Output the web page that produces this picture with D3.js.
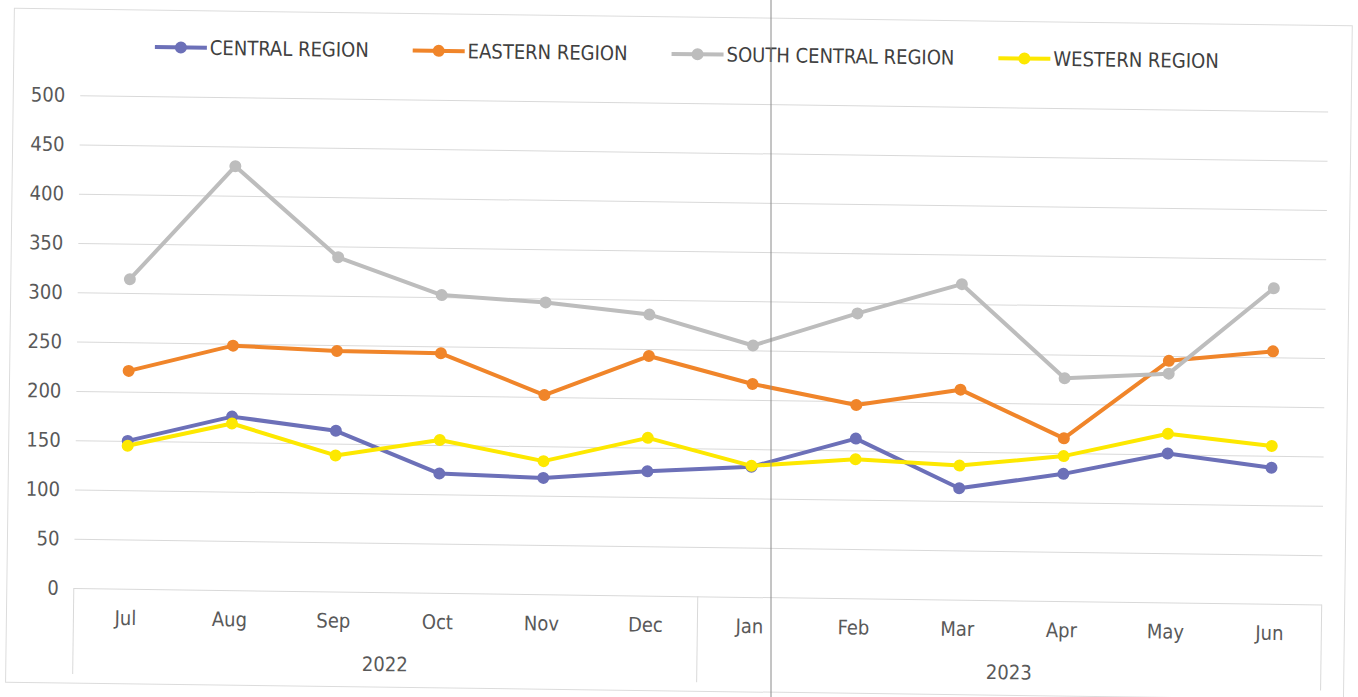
<!DOCTYPE html>
<html>
<head>
<meta charset="utf-8">
<script src="https://cdn.jsdelivr.net/npm/d3@7"></script>
<style>
  html, body { margin: 0; padding: 0; background: #fff; }
  svg { display: block; }
  text { font-family: "DejaVu Sans Condensed", "Liberation Sans", sans-serif; }
</style>
</head>
<body>
<svg></svg>
<script>
let months = ['Jul', 'Aug', 'Sep', 'Oct', 'Nov', 'Dec', 'Jan', 'Feb', 'Mar', 'Apr', 'May', 'Jun']
let years = ['2022', '2023']
let monthsPerYear = [6, 6]
let yTicks = [0, 50, 100, 150, 200, 250, 300, 350, 400, 450, 500]

let seriesNames = ['CENTRAL REGION', 'EASTERN REGION', 'SOUTH CENTRAL REGION', 'WESTERN REGION']
let central = [150, 176, 163, 121, 118, 126, 132, 162, 113, 129, 151, 138]
let eastern = [221, 248, 244, 243, 202, 243, 216, 196, 213, 165, 245, 256]
let southCentral = [314, 430, 339, 302, 296, 285, 255, 289, 320, 226, 232, 320]
let western = [145, 169, 138, 155, 135, 160, 133, 141, 136, 147, 171, 160]
let colors = ['#6c70b8', '#f0852a', '#bdbdbd', '#fde800']

let width = 1358
let height = 697
let plotLeft = 77
let plotRight = 1325
let plotTop = 103
let plotBottom = 596

let svg = d3.select('svg').attr('width', width).attr('height', height)

// the scan is slightly tilted
let g = svg.append('g').attr('transform', 'rotate(0.75, 679, 348)')

g.append('rect')
  .attr('x', 10).attr('y', 17).attr('width', 1338).attr('height', 674)
  .attr('fill', 'none').attr('stroke', '#dcdcdc')

let xScale = d3.scaleBand().domain(months).range([plotLeft, plotRight])
let yScale = d3.scaleLinear().domain([0, 500]).range([plotBottom, plotTop])

// gridlines
g.append('g')
  .attr('transform', `translate(${plotLeft},0)`)
  .call(d3.axisLeft(yScale).tickValues(yTicks).tickSize(-(plotRight - plotLeft)).tickFormat(''))
  .call(a => a.select('.domain').remove())
  .call(a => a.selectAll('line').attr('stroke', '#d9d9d9'))

// y labels
g.append('g')
  .attr('transform', `translate(${plotLeft},0)`)
  .call(d3.axisLeft(yScale).tickValues(yTicks).tickSize(0).tickPadding(15))
  .call(a => a.select('.domain').remove())
  .call(a => a.selectAll('text').attr('fill', '#595959').style('font-size', '20px')
    .style('font-family', '"DejaVu Sans Condensed", sans-serif'))

// x month labels
g.append('g')
  .attr('transform', `translate(0,${plotBottom})`)
  .call(d3.axisBottom(xScale).tickSize(0).tickPadding(22))
  .call(a => a.select('.domain').remove())
  .call(a => a.selectAll('text').attr('fill', '#595959').style('font-size', '20px')
    .style('font-family', '"DejaVu Sans Condensed", sans-serif'))

// category box lines
let bounds = [0]
monthsPerYear.forEach((n, i) => bounds.push(bounds[i] + n))
bounds.forEach(b => {
  let xx = b < months.length ? xScale(months[b]) : plotRight
  g.append('line')
    .attr('x1', xx).attr('x2', xx).attr('y1', plotBottom).attr('y2', 682)
    .attr('stroke', '#d9d9d9')
})

years.forEach((yr, i) => {
  let x0 = xScale(months[bounds[i]])
  let x1 = bounds[i + 1] < months.length ? xScale(months[bounds[i + 1]]) : plotRight
  g.append('text')
    .attr('x', (x0 + x1) / 2).attr('y', 675)
    .attr('text-anchor', 'middle')
    .attr('fill', '#595959').style('font-size', '20px')
    .text(yr)
})

// series
let allSeries = [central, eastern, southCentral, western]
let line = d3.line()
  .x((d, i) => xScale(months[i]) + xScale.bandwidth() / 2)
  .y(d => yScale(d))

allSeries.forEach((vals, s) => {
  g.append('path')
    .datum(vals)
    .attr('d', line)
    .attr('fill', 'none')
    .attr('stroke', colors[s])
    .attr('stroke-width', 4)
    .attr('stroke-linejoin', 'round')
  g.selectAll('.dot' + s)
    .data(vals)
    .enter()
    .append('circle')
    .attr('class', 'dot' + s)
    .attr('cx', (d, i) => xScale(months[i]) + xScale.bandwidth() / 2)
    .attr('cy', d => yScale(d))
    .attr('r', 6)
    .attr('fill', colors[s])
})

// legend
let lx = 151
let ly = 54
seriesNames.forEach((name, s) => {
  g.append('line')
    .attr('x1', lx).attr('x2', lx + 52).attr('y1', ly).attr('y2', ly)
    .attr('stroke', colors[s]).attr('stroke-width', 4)
  g.append('circle')
    .attr('cx', lx + 26).attr('cy', ly).attr('r', 6).attr('fill', colors[s])
  let t = g.append('text')
    .attr('x', lx + 55).attr('y', ly + 7)
    .attr('fill', '#404040').style('font-size', '20px')
    .text(name)
  lx += 55 + t.node().getComputedTextLength() + 44
})

// crease in the scanned page
svg.append('line')
  .attr('x1', 771).attr('x2', 771).attr('y1', 0).attr('y2', height)
  .attr('stroke', '#8a8a8a').attr('stroke-width', 1)
</script>
</body>
</html>
